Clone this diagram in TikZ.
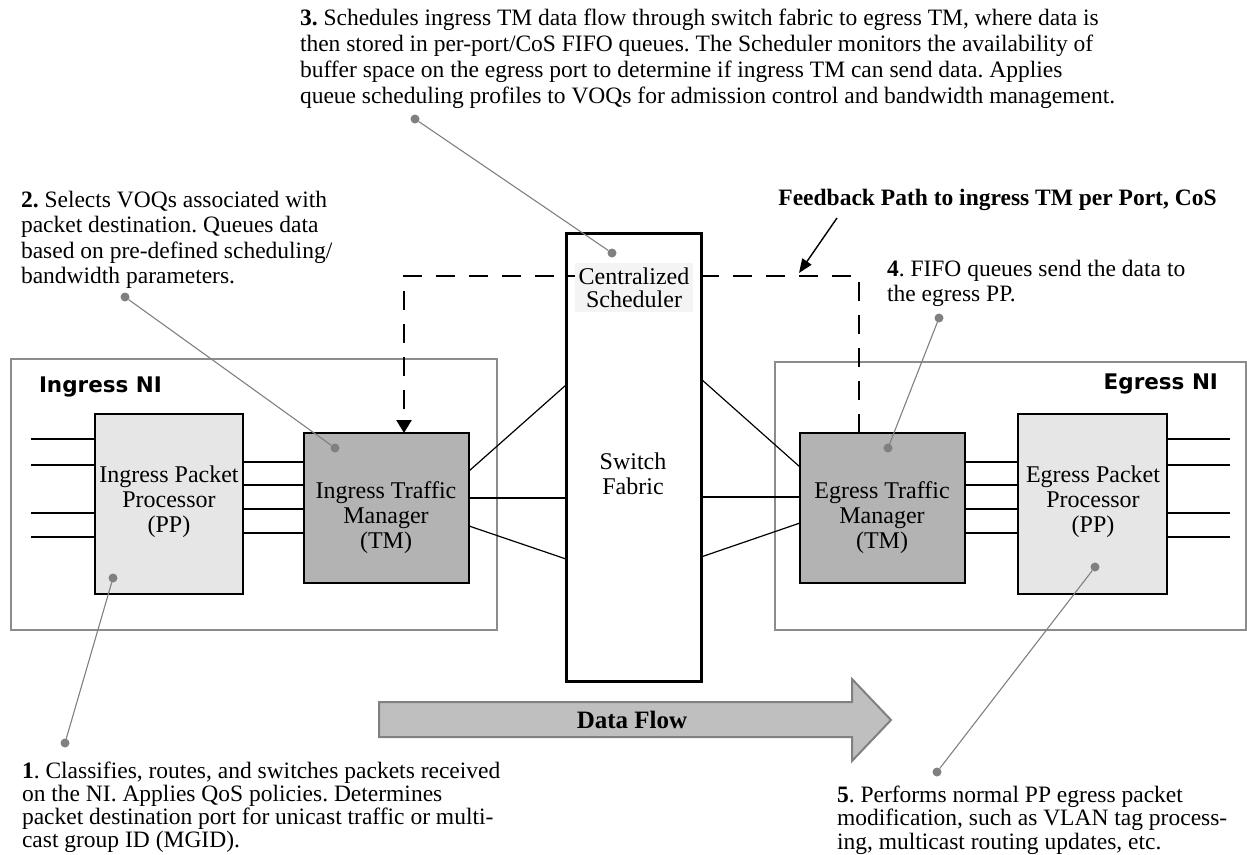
\documentclass[tikz,border=0pt]{standalone}
\usepackage{fontspec}
\setmainfont{Liberation Serif}
\newfontfamily\nisans{DejaVu Sans}
\usetikzlibrary{arrows.meta}
\frenchspacing
\definecolor{ppfill}{HTML}{E6E6E6}
\definecolor{tmfill}{HTML}{B3B3B3}
\definecolor{nigray}{HTML}{8C8C8C}
\definecolor{dotgray}{HTML}{808080}
\definecolor{flowfill}{HTML}{BFBFBF}
\definecolor{schedfill}{HTML}{F4F4F4}
\begin{document}
\begin{tikzpicture}[x=1pt,y=-1pt,
  every node/.style={inner sep=0pt, outer sep=0pt},
  nibox/.style={draw=nigray, line width=1.6pt, rectangle},
  ppbox/.style={draw=black, line width=2pt, fill=ppfill, rectangle},
  tmbox/.style={draw=black, line width=2pt, fill=tmfill, rectangle},
  boxtext/.style={font=\fontsize{24}{25}\selectfont, align=center},
  port/.style={line width=2.6pt},
  link/.style={line width=1.2pt},
  midlink/.style={line width=2pt},
  dot/.style={circle, fill=dotgray, minimum size=9pt},
  leader/.style={draw=dotgray, line width=1.1pt},
  feedback/.style={line width=2.5pt, dash pattern=on 19pt off 14pt},
  nilabel/.style={font=\nisans\bfseries\fontsize{21.5}{24}\selectfont},
  callout/.style={align=left, anchor=north west}
]
\useasboundingbox (0,0) rectangle (1247,854);

% network interface frames
\node[nibox, minimum width=486pt, minimum height=271pt] (ingNI) at (254,494.5) {};
\node[nibox, minimum width=471pt, minimum height=268pt] (egNI) at (1010.5,496) {};
\node[nilabel, anchor=base west] (ingNIl) at (39,392) {Ingress NI};
\node[nilabel, anchor=base east] (egNIl) at (1218,389) {Egress NI};

% switch fabric
\node[draw=black, fill=white, line width=3pt, minimum width=135pt, minimum height=448pt] (sw) at (633.5,457) {};

% processors and traffic managers
\node[ppbox, minimum width=148pt, minimum height=180pt] (ingPP) at (169,504) {};
\node[tmbox, minimum width=165pt, minimum height=150pt] (ingTM) at (386.5,508) {};
\node[tmbox, minimum width=165pt, minimum height=150pt] (egTM) at (882.5,508) {};
\node[ppbox, minimum width=149pt, minimum height=180pt] (egPP) at (1092.5,504) {};

\node[boxtext] (ingPPl) at (169,502) {Ingress Packet\\Processor\\(PP)};
\node[boxtext] (ingTMl) at (386,518) {Ingress Traffic\\Manager\\(TM)};
\node[boxtext] (egTMl) at (882,518) {Egress Traffic\\Manager\\(TM)};
\node[boxtext] (egPPl) at (1093,502) {Egress Packet\\Processor\\(PP)};

% ports
\foreach \y in {439,465,513,537} {
  \coordinate (inL\y) at (31,\y);
  \coordinate (outR\y) at (1230,\y);
  \draw[port] (inL\y) -- (ingPP.west |- inL\y);
  \draw[port] (egPP.east |- outR\y) -- (outR\y);
}
\foreach \y in {462,485,509,533} {
  \draw[port] (ingPP.east |- 0,\y) -- (ingTM.west |- 0,\y);
  \draw[port] (egTM.east |- 0,\y) -- (egPP.west |- 0,\y);
}

% links to the fabric
\draw[link] (ingTM.east |- 0,471) -- (sw.west |- 0,385);
\draw[midlink] (ingTM.east |- 0,498) -- (sw.west |- 0,498);
\draw[link] (ingTM.east |- 0,526) -- (sw.west |- 0,559);
\draw[link] (sw.east |- 0,379) -- (egTM.west |- 0,467);
\draw[midlink] (sw.east |- 0,497) -- (egTM.west |- 0,497);
\draw[link] (sw.east |- 0,557) -- (egTM.west |- 0,523);

% feedback path
\coordinate (fbR) at (859,276);
\coordinate (fbL) at (404,276);
\draw[feedback, -{Triangle[length=13pt,width=15pt]}] (egTM.north -| fbR) -- (fbR) -- (fbL) -- (ingTM.north -| fbL);
\node[fill=schedfill, minimum width=118pt, minimum height=49pt, font=\fontsize{24}{23}\selectfont, align=center] (sched) at (634,287.5) {Centralized\\Scheduler};
\node[boxtext] (swl) at (633,474) {Switch\\Fabric};

\node[font=\bfseries\fontsize{23.5}{26}\selectfont, anchor=base] (fbl) at (997.5,205) {Feedback Path to ingress TM per Port, CoS};
\coordinate (fbs) at (837,218);
\coordinate (fbt) at (799,273);
\draw[line width=1.4pt, -{Triangle[length=14pt,width=11pt]}] (fbs) -- (fbt);

% data flow arrow
\draw[draw=dotgray, fill=flowfill, line width=2pt] (379,702) -- (852,702) -- (852,679) -- (891,720) -- (852,761) -- (852,737) -- (379,737) -- cycle;
\node[font=\bfseries\fontsize{25}{26}\selectfont] (flow) at (632,720) {Data Flow};

% callouts
\node[dot] (d1a) at (113,578) {};
\node[dot] (d1b) at (65,743) {};
\node[dot] (d2a) at (335,448) {};
\node[dot] (d2b) at (125,297) {};
\node[dot] (d3a) at (612,253) {};
\node[dot] (d3b) at (415,119) {};
\node[dot] (d4a) at (888,448) {};
\node[dot] (d4b) at (939,318) {};
\node[dot] (d5a) at (1095,567) {};
\node[dot] (d5b) at (937,772) {};
\draw[leader] (d1a) -- (d1b);
\draw[leader] (d2a) -- (d2b);
\draw[leader] (d3a) -- (d3b);
\draw[leader] (d4a) -- (d4b);
\draw[leader] (d5a) -- (d5b);

\node[callout, font=\fontsize{23.5}{23}\selectfont] (t1) at (22,762)
 {\textbf{1}. Classifies, routes, and switches packets received\\on the NI. Applies QoS policies. Determines\\packet destination port for unicast traffic or multi-\\cast group ID (MGID).};
\node[callout, font=\fontsize{23.5}{25.5}\selectfont] (t2) at (21,191)
 {\textbf{2.} Selects VOQs associated with\\packet destination. Queues data\\based on pre-defined scheduling/\\bandwidth parameters.};
\node[callout, font=\fontsize{23.5}{26}\selectfont] (t3) at (300,8.5)
 {\textbf{3.} Schedules ingress TM data flow through switch fabric to egress TM, where data is\\then stored in per-port/CoS FIFO queues. The Scheduler monitors the availability of\\buffer space on the egress port to determine if ingress TM can send data. Applies\\queue scheduling profiles to VOQs for admission control and bandwidth management.};
\node[callout, font=\fontsize{23.5}{25}\selectfont] (t4) at (887,260.5)
 {\textbf{4}. FIFO queues send the data to\\the egress PP.};
\node[callout, font=\fontsize{23.5}{23.5}\selectfont] (t5) at (837,785.5)
 {\textbf{5}. Performs normal PP egress packet\\modification, such as VLAN tag process-\\ing, multicast routing updates, etc.};
\end{tikzpicture}
\end{document}
